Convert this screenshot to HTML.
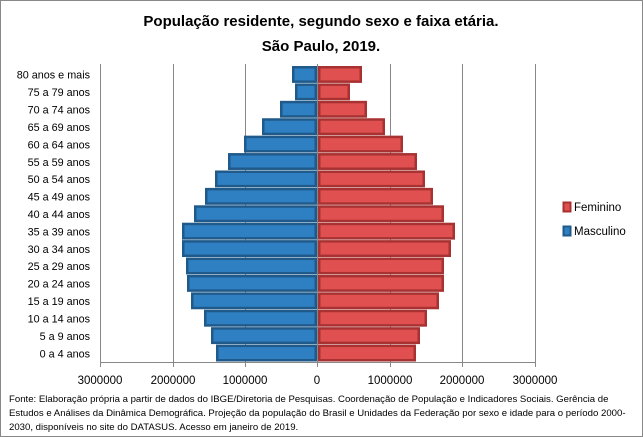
<!DOCTYPE html>
<html><head><meta charset="utf-8"><style>
html,body{margin:0;padding:0;background:#fff}
svg{display:block}
text{font-family:"Liberation Sans",sans-serif;}
</style></head><body>
<svg width="643" height="437" viewBox="0 0 643 437">
<rect x="0.5" y="0.5" width="642" height="436" fill="#fff" stroke="#888"/>
<text x="321" y="26" text-anchor="middle" font-size="15" font-weight="bold" fill="#000">População residente, segundo sexo e faixa etária.</text>
<text x="321" y="51" text-anchor="middle" font-size="15" font-weight="bold" fill="#000">São Paulo, 2019.</text>
<g stroke="#888" stroke-width="1">
<line x1="100.5" y1="64" x2="100.5" y2="362"/>
<line x1="173.5" y1="64" x2="173.5" y2="362"/>
<line x1="245.5" y1="64" x2="245.5" y2="362"/>
<line x1="390.5" y1="64" x2="390.5" y2="362"/>
<line x1="462.5" y1="64" x2="462.5" y2="362"/>
<line x1="535.5" y1="64" x2="535.5" y2="362"/>
<line x1="100" y1="362.5" x2="536" y2="362.5"/>
<line x1="100.5" y1="362" x2="100.5" y2="367"/>
<line x1="173.5" y1="362" x2="173.5" y2="367"/>
<line x1="245.5" y1="362" x2="245.5" y2="367"/>
<line x1="317.5" y1="362" x2="317.5" y2="367"/>
<line x1="390.5" y1="362" x2="390.5" y2="367"/>
<line x1="462.5" y1="362" x2="462.5" y2="367"/>
<line x1="535.5" y1="362" x2="535.5" y2="367"/>
</g>
<g id="bars"></g>
<line x1="317.5" y1="64" x2="317.5" y2="362" stroke="#888"/>
<g font-size="10.8" fill="#000" text-anchor="end" id="labels"></g>
<g font-size="11.5" fill="#000" text-anchor="middle">
<text x="100" y="384">3000000</text><text x="173" y="384">2000000</text><text x="245" y="384">1000000</text><text x="317" y="384">0</text><text x="390" y="384">1000000</text><text x="462" y="384">2000000</text><text x="535" y="384">3000000</text>
</g>
<rect x="563.5" y="202.5" width="7" height="9" fill="#E05050" stroke="#A83232" stroke-width="2"/>
<text x="574" y="211" font-size="11.5">Feminino</text>
<rect x="563.5" y="226.5" width="7" height="9" fill="#2E80C2" stroke="#1F5A8A" stroke-width="2"/>
<text x="574" y="235" font-size="11.5">Masculino</text>
<g font-size="9.6" fill="#000">
<text x="9" y="402">Fonte:  Elaboração própria a partir de dados do  IBGE/Diretoria de Pesquisas. Coordenação de População e Indicadores Sociais. Gerência de</text>
<text x="9" y="416">Estudos e Análises da Dinâmica Demográfica. Projeção da população do Brasil e Unidades da Federação por sexo e idade para o período 2000-</text>
<text x="9" y="430">2030, disponíveis no site do DATASUS. Acesso em  janeiro de 2019.</text>
</g>
</svg>
<script>
(function(){
var L=["80 anos e mais","75 a 79 anos","70 a 74 anos","65 a 69 anos","60 a 64 anos","55 a 59 anos","50 a 54 anos","45 a 49 anos","40 a 44 anos","35 a 39 anos","30 a 34 anos","25 a 29 anos","20 a 24 anos","15 a 19 anos","10 a 14 anos","5 a 9 anos","0 a 4 anos"];
var M=[292,295,280,262,244,228,215,205,194,182,182,186,187,191,204,211,216];
var F=[362,350,367,385,403,417,425,433,444,455,451,444,444,439,427,420,416];
var ns="http://www.w3.org/2000/svg",g=document.getElementById("bars"),lg=document.getElementById("labels");
var y0=66,p=(362-66)/17;
for(var i=0;i<17;i++){
 var y=y0+i*p;
 var r=document.createElementNS(ns,"rect");
 r.setAttribute("x",M[i]+1.25);r.setAttribute("y",y+1.25);r.setAttribute("width",317-M[i]-2.5);r.setAttribute("height",p-3);
 r.setAttribute("fill","#2E80C2");r.setAttribute("stroke","#1F5A8A");r.setAttribute("stroke-width","2.5");g.appendChild(r);
 var s=document.createElementNS(ns,"rect");
 s.setAttribute("x",318+1.25);s.setAttribute("y",y+1.25);s.setAttribute("width",F[i]-318-2.5);s.setAttribute("height",p-3);
 s.setAttribute("fill","#E05050");s.setAttribute("stroke","#A83232");s.setAttribute("stroke-width","2.5");g.appendChild(s);
 var t=document.createElementNS(ns,"text");t.setAttribute("x",90);t.setAttribute("y",y+p/2+4);t.textContent=L[i];lg.appendChild(t);
}
})();
</script>
</body></html>
